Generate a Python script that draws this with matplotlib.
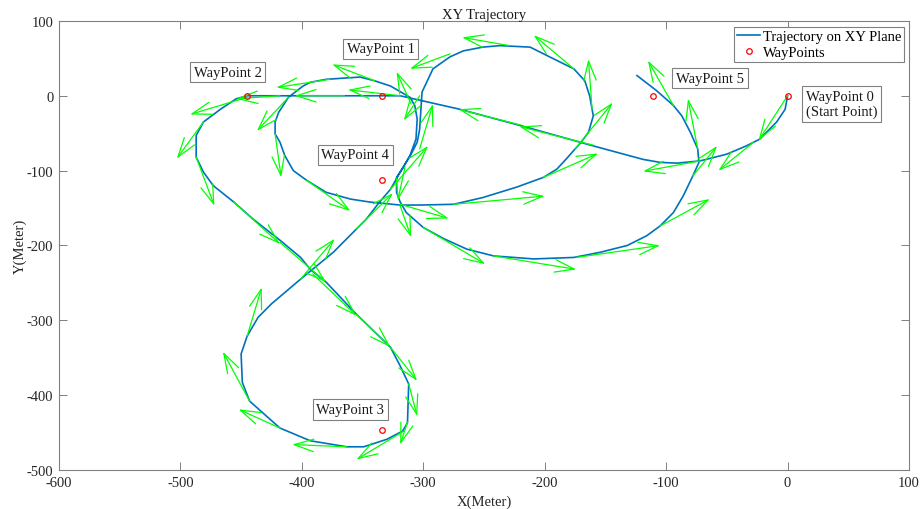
"""Plot the XY trajectory with heading arrows and labelled waypoints."""

import matplotlib.pyplot as plt

plt.rcParams["font.family"] = ["Liberation Serif", "DejaVu Serif"]
plt.rcParams["axes.unicode_minus"] = False

# flown path, in metres
traj_x = [0, -2, -9, -23, -34, -50, -72, -91, -105, -119, -160, -215, -270,
          -319, -334, -445, -454, -467, -481, -487, -487, -481, -473, -456,
          -440, -418, -401, -393, -380, -355, -327, -319, -312, -313, -317,
          -330, -349, -363, -393, -418, -443, -449, -450, -445, -436, -425,
          -401, -374, -355, -347, -336, -327, -319, -311, -306, -305, -307,
          -311, -327, -340, -352, -380, -393, -399, -411, -419, -422, -422,
          -418, -414, -407, -396, -380, -360, -344, -319, -303, -275, -251,
          -223, -201, -190, -182, -175, -171, -164, -160, -163, -167, -176,
          -196, -212, -237, -251, -267, -278, -292, -301, -302, -303, -305,
          -310, -317, -322, -322, -319, -314, -300, -283, -264, -242, -209,
          -176, -154, -132, -116, -105, -94, -86, -78, -73, -74, -80, -87,
          -94, -108, -124]
traj_y = [0, -18, -35, -58, -67, -78, -87, -90, -89, -85, -67, -42, -18,
          0, 0, 0, -4, -18, -35, -53, -82, -102, -120, -142,
          -165, -193, -216, -232, -249, -292, -336, -361, -385, -437, -448,
          -459, -469, -469, -461, -444, -408, -383, -345, -321, -296, -278,
          -245, -209, -178, -165, -142, -125, -102, -80, -58, -31, -13,
          -2, 13, 20, 25, 22, 18, 13, -2, -22, -35, -51,
          -62, -80, -100, -113, -129, -138, -142, -146, -146, -145, -136,
          -122, -109, -98, -84, -71, -64, -49, -27, 0, 20, 36,
          52, 65, 67, 65, 60, 52, 36, 5, -20, -45, -62,
          -78, -97, -109, -129, -142, -156, -176, -191, -205, -214, -218,
          -216, -209, -200, -187, -174, -156, -134, -107, -89, -71, -49, -27,
          -13, 7, 27]

wp_x = [0, -334, -445, -334, -334, -111]
wp_y = [0, 0, 0, -446, -112, 0]
wp_labels = ["WayPoint 0\n(Start Point)", "WayPoint 1", "WayPoint 2",
             "WayPoint 3", "WayPoint 4", "WayPoint 5"]
label_x = [15, -363, -489, -388, -384, -92]
label_y = [-11, 62.6, 31.4, -419, -79, 23.4]

# heading arrows: tail and tip of each one
arrow_x0 = [0, -28, -72, -78, -74, -94, -105, -174, -275, -201, -175, -161,
            -176, -229, -278, -160, -220, -319, -365, -418, -445, -481, -487,
            -456, -418, -391, -355, -327, -312, -313, -316, -363, -418, -443,
            -445, -401, -355, -327, -303, -310, -340, -377, -411, -422, -396,
            -319, -303, -315, -319, -300, -242]
arrow_y0 = [0, -62, -87, -107, -71, -13, -174, -216, -145, -109, -71, -18,
            36, 67, 56, -66, -39, 0, 0, 0, -2, -35, -82,
            -142, -196, -238, -292, -336, -385, -436, -448, -469, -444, -408,
            -321, -245, -178, -125, -71, -11, 20, 22, -2, -51, -113,
            -145, 0, -95, -147, -176, -214]
arrow_x1 = [-24, -57, -119, -58, -82, -115, -64, -105, -200, -156, -144, -164,
            -209, -268, -311, -221, -271, -362, -406, -454, -492, -503, -472,
            -418, -380, -355, -327, -305, -305, -319, -355, -408, -452, -465,
            -433, -373, -325, -296, -292, -322, -375, -421, -437, -417, -360,
            -279, -316, -321, -310, -249, -174]
arrow_y1 = [-60, -100, -101, -67, -4, 47, -138, -200, -134, -77, -9, 49,
            81, 78, 36, -41, -18, 8, 0, -4, -25, -84, -147,
            -198, -249, -294, -336, -381, -428, -466, -486, -466, -419, -342,
            -256, -191, -130, -67, -11, 32, 42, 11, -47, -109, -154,
            -164, -33, -140, -189, -225, -232]

TRAJ_COLOR = "#0072BD"
ARROW_COLOR = "#00FF00"
AXIS_COLOR = "#808080"


def plot_trajectory(save_path: str = "out.png") -> None:
    fig = plt.figure(figsize=(9.21, 5.10), dpi=100)
    ax = fig.add_axes([0.064, 0.0765, 0.923, 0.8805])

    traj_line, = ax.plot(traj_x, traj_y, color=TRAJ_COLOR, lw=1.2,
                         label="Trajectory on XY Plane", zorder=2)

    for x0, y0, x1, y1 in zip(arrow_x0, arrow_y0, arrow_x1, arrow_y1):
        ax.annotate("", xy=(x1, y1), xytext=(x0, y0),
                    arrowprops=dict(arrowstyle="->,head_length=1.4,head_width=0.45",
                                    color=ARROW_COLOR, lw=0.9,
                                    shrinkA=0, shrinkB=0),
                    zorder=3)

    wp_pts, = ax.plot(wp_x, wp_y, "o", ls="none", mfc="none", mec="red",
                      ms=4, mew=0.9, label="WayPoints", zorder=4)

    for tx, ty, txt in zip(label_x, label_y, wp_labels):
        ax.text(tx, ty, txt, ha="left", va="center", fontsize=10.5,
                color="#1a1a1a", zorder=5,
                bbox=dict(boxstyle="square,pad=0.25", fc="white",
                          ec=AXIS_COLOR, lw=0.8))

    ax.set_xlim(-600, 100)
    ax.set_ylim(-500, 100)
    ax.set_xticks(range(-600, 101, 100))
    ax.set_yticks(range(-500, 101, 100))
    ax.tick_params(direction="in", top=True, right=True, length=5.5,
                   width=0.7, color=AXIS_COLOR, labelsize=10.5,
                   labelcolor="#262626", pad=4)
    for spine in ax.spines.values():
        spine.set_color(AXIS_COLOR)
        spine.set_linewidth(0.8)

    ax.set_title("XY Trajectory", fontsize=10.5, color="#1a1a1a", pad=2)
    ax.set_xlabel("X(Meter)", fontsize=10.5, color="#262626", labelpad=4)
    ax.set_ylabel("Y(Meter)", fontsize=10.5, color="#262626", labelpad=0)

    leg = ax.legend(handles=[traj_line, wp_pts], loc="upper right",
                    bbox_to_anchor=(0.994, 0.987), borderaxespad=0,
                    fancybox=False, framealpha=1, edgecolor=AXIS_COLOR,
                    fontsize=10.5, borderpad=0.2, handlelength=1.6,
                    handletextpad=0.15, labelspacing=0.2)
    leg.get_frame().set_linewidth(0.8)

    fig.savefig(save_path, dpi=100)
    plt.close(fig)


if __name__ == "__main__":
    plot_trajectory()
